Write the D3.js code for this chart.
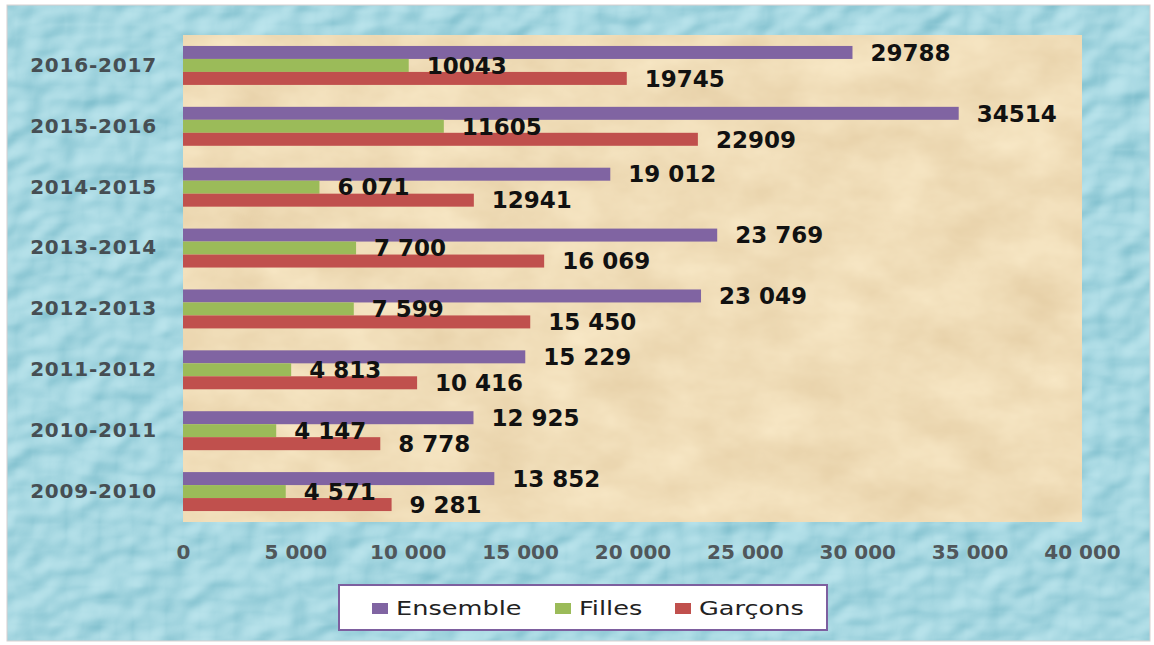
<!DOCTYPE html>
<html>
<head>
<meta charset="utf-8">
<script src="https://cdn.jsdelivr.net/npm/d3@7"></script>
<style>
  body { margin: 0; background: #fff; }
  svg text { font-family: "DejaVu Sans", sans-serif; }
</style>
</head>
<body>
<div id="chart"></div>
<script>
const categories = ["2009-2010", "2010-2011", "2011-2012", "2012-2013", "2013-2014", "2014-2015", "2015-2016", "2016-2017"]
const series = ["Ensemble", "Filles", "Garçons"]
const ensemble = [13852, 12925, 15229, 23049, 23769, 19012, 34514, 29788]
const filles = [4571, 4147, 4813, 7599, 7700, 6071, 11605, 10043]
const garcons = [9281, 8778, 10416, 15450, 16069, 12941, 22909, 19745]
// labels as printed on the picture (spacing is not consistent)
const ensembleLabels = ["13 852", "12 925", "15 229", "23 049", "23 769", "19 012", "34514", "29788"]
const fillesLabels = ["4 571", "4 147", "4 813", "7 599", "7 700", "6 071", "11605", "10043"]
const garconsLabels = ["9 281", "8 778", "10 416", "15 450", "16 069", "12941", "22909", "19745"]
const xTicks = [0, 5000, 10000, 15000, 20000, 25000, 30000, 35000, 40000]
const colors = ["#8064a2", "#9bbb59", "#c0504d"]

const params = {
  width: 1154,
  height: 645,
  plotLeft: 183,
  plotRight: 1082,
  plotTop: 35,
  plotBottom: 522,
}

const svg = d3.select('#chart')
  .append('svg')
  .attr('width', params.width)
  .attr('height', params.height)

const defs = svg.append('defs')

// water drop texture for the outer background
const water = defs.append('filter').attr('id', 'water')
  .attr('x', 0).attr('y', 0).attr('width', '100%').attr('height', '100%')
  .attr('color-interpolation-filters', 'sRGB')
water.append('feTurbulence')
  .attr('type', 'fractalNoise').attr('baseFrequency', '0.03 0.04')
  .attr('numOctaves', 2).attr('seed', 7).attr('result', 'noise')
water.append('feDiffuseLighting')
  .attr('in', 'noise').attr('surfaceScale', 5)
  .attr('lighting-color', '#fff').attr('result', 'light')
  .append('feDistantLight').attr('azimuth', 225).attr('elevation', 50)
water.append('feColorMatrix').attr('in', 'light').attr('type', 'matrix')
  .attr('values', '0.38 0 0 0 0.36  0.24 0 0 0 0.66  0.2 0 0 0 0.73  0 0 0 0 1')

// parchment texture for the plot area
const paper = defs.append('filter').attr('id', 'paper')
  .attr('x', 0).attr('y', 0).attr('width', '100%').attr('height', '100%')
  .attr('color-interpolation-filters', 'sRGB')
paper.append('feTurbulence')
  .attr('type', 'fractalNoise').attr('baseFrequency', '0.015 0.025')
  .attr('numOctaves', 4).attr('seed', 3).attr('result', 'noise')
paper.append('feColorMatrix').attr('in', 'noise').attr('type', 'matrix')
  .attr('values', '0.08 0 0 0 0.9  0.11 0 0 0 0.81  0.14 0 0 0 0.65  0 0 0 0 1')

// picture frame + background
svg.append('rect')
  .attr('x', 7).attr('y', 5)
  .attr('width', params.width - 11).attr('height', params.height - 9)
  .attr('fill', '#a9dde8')
  .attr('filter', 'url(#water)')
svg.append('rect')
  .attr('x', 7).attr('y', 5)
  .attr('width', params.width - 11).attr('height', params.height - 9)
  .attr('fill', 'none')
  .attr('stroke', '#d8cfcf')
  .attr('stroke-width', 1)

svg.append('rect')
  .attr('x', params.plotLeft).attr('y', params.plotTop)
  .attr('width', params.plotRight - params.plotLeft)
  .attr('height', params.plotBottom - params.plotTop)
  .attr('fill', '#f0dcb5')
  .attr('filter', 'url(#paper)')

// scales
const x = d3.scaleLinear()
  .domain([0, 40000])
  .range([params.plotLeft, params.plotRight])

const y = d3.scaleBand()
  .domain(categories.slice().reverse())
  .range([params.plotTop, params.plotBottom])
  .paddingInner(0.36)
  .paddingOuter(0.18)

const ySub = d3.scaleBand()
  .domain(series)
  .range([0, y.bandwidth()])

const rows = categories.map((c, i) => ({
  cat: c,
  values: [
    { key: "Ensemble", value: ensemble[i], label: ensembleLabels[i] },
    { key: "Filles", value: filles[i], label: fillesLabels[i] },
    { key: "Garçons", value: garcons[i], label: garconsLabels[i] },
  ]
}))

const groups = svg.append('g')
  .selectAll('g')
  .data(rows)
  .enter()
  .append('g')
  .attr('transform', d => `translate(0,${y(d.cat)})`)

groups.selectAll('rect')
  .data(d => d.values)
  .enter()
  .append('rect')
  .attr('x', x(0))
  .attr('y', d => ySub(d.key))
  .attr('width', d => x(d.value) - x(0))
  .attr('height', ySub.bandwidth())
  .attr('fill', (d, i) => colors[i])

groups.selectAll('text')
  .data(d => d.values)
  .enter()
  .append('text')
  .attr('x', d => x(d.value) + 18)
  .attr('y', d => ySub(d.key) + ySub.bandwidth() / 2)
  .attr('dy', '0.36em')
  .attr('font-size', 23)
  .attr('font-weight', 'bold')
  .attr('fill', '#111')
  .text(d => d.label)

// category axis
const yAxis = svg.append('g')
  .attr('transform', `translate(${params.plotLeft},0)`)
  .call(d3.axisLeft(y).tickSize(0).tickPadding(26))
yAxis.select('.domain').remove()
yAxis.selectAll('text')
  .attr('font-size', 20)
  .attr('font-weight', 'bold')
  .attr('letter-spacing', 0.8)
  .attr('fill', '#464e53')
  .style('font-family', '"DejaVu Sans", sans-serif')

// value axis
const fmt = d3.formatLocale({ decimal: ",", thousands: " ", grouping: [3], currency: ["", " €"] }).format(",d")
const xAxis = svg.append('g')
  .attr('transform', `translate(0,${params.plotBottom})`)
  .call(d3.axisBottom(x).tickValues(xTicks).tickFormat(fmt).tickSize(0).tickPadding(23))
xAxis.select('.domain').remove()
xAxis.selectAll('text')
  .attr('font-size', 20)
  .attr('font-weight', 'bold')
  .attr('fill', '#50575b')
  .style('font-family', '"DejaVu Sans", sans-serif')

// legend
const legend = svg.append('g')
legend.append('rect')
  .attr('x', 339).attr('y', 585)
  .attr('width', 488).attr('height', 45)
  .attr('fill', '#fff')
  .attr('stroke', '#7d5f9f')
  .attr('stroke-width', 2)

const legendX = [372, 555, 675]
const items = legend.selectAll('g.item')
  .data(series)
  .enter()
  .append('g')
  .attr('class', 'item')
  .attr('transform', (d, i) => `translate(${legendX[i]},608)`)
items.append('rect')
  .attr('x', 0).attr('y', -5)
  .attr('width', 16).attr('height', 11)
  .attr('fill', (d, i) => colors[i])
items.append('text')
  .attr('transform', 'translate(24,0) scale(1.28,1)')
  .attr('dy', '0.36em')
  .attr('font-size', 20)
  .attr('fill', '#222')
  .text(d => d)
</script>
</body>
</html>
